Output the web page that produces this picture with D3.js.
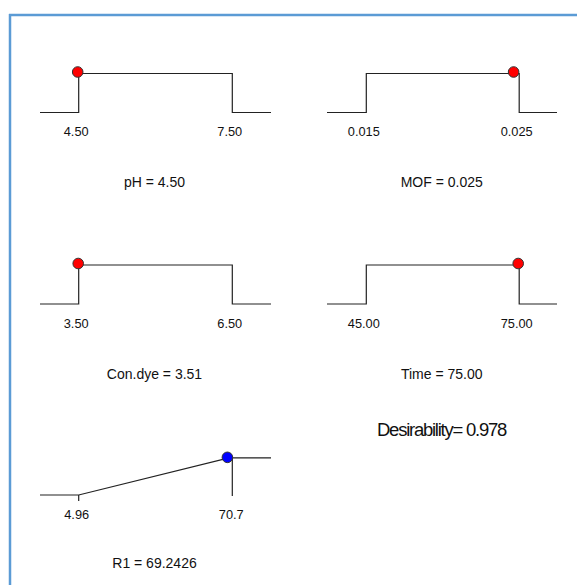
<!DOCTYPE html>
<html><head><meta charset="utf-8">
<script src="https://cdn.jsdelivr.net/npm/d3@7"></script>
<style>
html,body{margin:0;padding:0;background:#fff;}
text{font-family:"Liberation Sans",Arial,sans-serif;fill:#111;}
</style></head>
<body>
<svg id="c" width="577" height="585"></svg>
<script>
// Factor panels
const factorNames = ["pH", "MOF", "Con.dye", "Time"];
const factorLow = [4.50, 0.015, 3.50, 45.00];
const factorHigh = [7.50, 0.025, 6.50, 75.00];
const factorValue = [4.50, 0.0247, 3.51, 75.00];
const factorDigits = [2, 3, 2, 2];
const lowLabels = ["4.50", "0.015", "3.50", "45.00"];
const highLabels = ["7.50", "0.025", "6.50", "75.00"];
// Response panel
const responseName = "R1";
const responseLow = 4.96;
const responseHigh = 70.7;
const responseValue = 69.2426;
const responseLabels = ["4.96", "70.7"];
const desirability = 0.978;

const svg = d3.select("#c");

// border
svg.append("line").attr("x1", 9).attr("x2", 577).attr("y1", 15).attr("y2", 15)
  .attr("stroke", "#5b9bd5").attr("stroke-width", 2.5);
svg.append("line").attr("x1", 10).attr("x2", 10).attr("y1", 14).attr("y2", 585)
  .attr("stroke", "#5b9bd5").attr("stroke-width", 2.5);

const colLeft = [40, 327];
const colStep = [[78.7, 232.3], [366.3, 519.2]];
const colRight = [271, 557];
const rowLow = [112.5, 304, 495];
const rowHigh = [73.5, 265, 457];
const lineColor = "#222";

function panel(i, row, col) {
  const x = d3.scaleLinear().domain([factorLow[i], factorHigh[i]]).range(colStep[col]);
  const y = d3.scaleLinear().domain([0, 1]).range([rowLow[row], rowHigh[row]]);
  const pts = [
    [colLeft[col], y(0)], [x(factorLow[i]), y(0)], [x(factorLow[i]), y(1)],
    [x(factorHigh[i]), y(1)], [x(factorHigh[i]), y(0)], [colRight[col], y(0)]
  ];
  const g = svg.append("g");
  g.append("path").attr("d", d3.line()(pts)).attr("fill", "none")
    .attr("stroke", lineColor).attr("stroke-width", 1.2);
  g.append("text").attr("x", x(factorLow[i]) - 2.5).attr("y", y(0) + 23.5)
    .attr("text-anchor", "middle").attr("font-size", 12.8).text(lowLabels[i]);
  g.append("text").attr("x", x(factorHigh[i]) - 2.5).attr("y", y(0) + 23.5)
    .attr("text-anchor", "middle").attr("font-size", 12.8).text(highLabels[i]);
  const mid = (colStep[col][0] + colStep[col][1]) / 2 - 1;
  g.append("text").attr("x", mid).attr("y", y(0) + 74.5)
    .attr("text-anchor", "middle").attr("font-size", 14)
    .text(factorNames[i] + " = " + factorValue[i].toFixed(factorDigits[i]));
  g.append("circle").attr("cx", x(factorValue[i]) - 1).attr("cy", y(1) - 1.5).attr("r", 5.3)
    .attr("fill", "#ff0000").attr("stroke", "#333").attr("stroke-width", 1);
}

panel(0, 0, 0);
panel(1, 0, 1);
panel(2, 1, 0);
panel(3, 1, 1);

// response panel
(function () {
  const row = 2, col = 0;
  const x = d3.scaleLinear().domain([responseLow, responseHigh]).range(colStep[col]);
  const y = d3.scaleLinear().domain([0, 1]).range([rowLow[row], rowHigh[row]]);
  const g = svg.append("g");
  const d = (responseValue - responseLow) / (responseHigh - responseLow);
  const pts = [
    [colLeft[col], y(0)], [x(responseLow), y(0)], [x(responseValue), y(d)],
    [colRight[col], y(d)]
  ];
  g.append("path").attr("d", d3.line()(pts)).attr("fill", "none")
    .attr("stroke", lineColor).attr("stroke-width", 1.2);
  g.append("line").attr("x1", x(responseHigh)).attr("x2", x(responseHigh))
    .attr("y1", y(d)).attr("y2", y(0) + 1).attr("stroke", lineColor).attr("stroke-width", 1.2);
  g.append("line").attr("x1", x(responseLow)).attr("x2", x(responseLow))
    .attr("y1", y(0)).attr("y2", y(0) + 6).attr("stroke", lineColor).attr("stroke-width", 1.2);
  g.append("text").attr("x", x(responseLow) - 2).attr("y", y(0) + 24)
    .attr("text-anchor", "middle").attr("font-size", 12.8).text(responseLabels[0]);
  g.append("text").attr("x", x(responseHigh) - 1).attr("y", y(0) + 24)
    .attr("text-anchor", "middle").attr("font-size", 12.8).text(responseLabels[1]);
  const mid = (colStep[col][0] + colStep[col][1]) / 2 - 1;
  g.append("text").attr("x", mid).attr("y", y(0) + 72.5)
    .attr("text-anchor", "middle").attr("font-size", 14)
    .text(responseName + " = " + responseValue.toFixed(4));
  g.append("circle").attr("cx", x(responseValue) - 1.5).attr("cy", y(d) - 0.5).attr("r", 5.3)
    .attr("fill", "#0000ff").attr("stroke", "#333").attr("stroke-width", 1);
})();

svg.append("text").attr("x", 377).attr("y", 435.5).attr("font-size", 18)
  .attr("textLength", 129).attr("lengthAdjust", "spacingAndGlyphs")
  .attr("letter-spacing", -1.2)
  .text("Desirability= " + desirability.toFixed(3));
</script>
</body></html>
